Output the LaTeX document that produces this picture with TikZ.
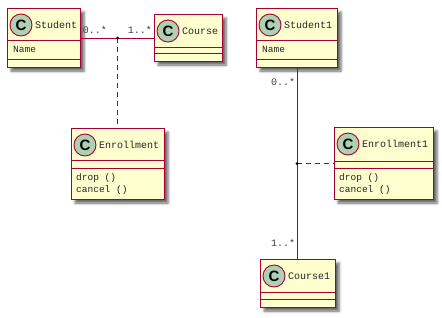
\documentclass[tikz,border=0pt]{standalone}
\usepackage{fontspec}
\setmonofont{Liberation Mono}
\setsansfont{Liberation Sans}
\usetikzlibrary{calc,shadows.blur}
\definecolor{umlborder}{HTML}{A80036}
\definecolor{umlfill}{HTML}{FEFECE}
\definecolor{umlcircle}{HTML}{ADD1B2}

\tikzset{
	classnode/.style={draw=umlborder, fill=umlfill, line width=1.1pt, inner sep=0pt, anchor=north west,
		blur shadow={shadow xshift=3.5pt, shadow yshift=-3.5pt, shadow blur radius=2.5pt, shadow opacity=60}},
	classline/.style={draw=umlborder, line width=1pt},
	classtitle/.style={anchor=west, inner sep=0pt, text=black!85, font=\ttfamily\fontsize{10}{12}\selectfont},
	member/.style={anchor=west, inner sep=0pt, text=black!85, font=\ttfamily\fontsize{9.5}{11}\selectfont},
	mult/.style={inner sep=0pt, text=black!75, font=\ttfamily\fontsize{10}{12}\selectfont},
	assoc/.style={draw=umlborder, line width=0.8pt},
	linkdash/.style={draw=umlborder, line width=0.8pt, dash pattern=on 5pt off 4pt},
}

% box with name compartment, two separators and the C badge
% #1 id, #2 x, #3 y, #4 width, #5 height, #6 first sep, #7 second sep, #8 title
\newcommand\umlclass[8]{
	\node[classnode, minimum width=#4pt, minimum height=#5pt] (#1) at (#2,#3) {};
	\draw[classline] ($(#1.north west)+(0,#6)$) -- ($(#1.north east)+(0,#6)$);
	\draw[classline] ($(#1.north west)+(0,#7)$) -- ($(#1.north east)+(0,#7)$);
	\draw[draw=umlborder, fill=umlcircle, line width=0.9pt] ($(#1.north west)+(14,17)$) circle (11);
	\node[inner sep=0pt, font=\sffamily\bfseries\fontsize{15}{15}\selectfont] (#1badge) at ($(#1.north west)+(14,17.5)$) {C};
	\node[classtitle] (#1title) at ($(#1.north west)+(28,17)$) {#8};
}

\begin{document}
\begin{tikzpicture}[x=1pt, y=-1pt]
	\useasboundingbox (0,0) rectangle (442,317);

	%%% association class on the side
	\umlclass{student}{7}{8}{73}{59}{32}{51}{Student}
	\node[member] (studentname) at (13,49.5) {Name};
	\umlclass{course}{154}{14}{68}{47}{33}{39}{Course}
	\umlclass{enroll}{71}{128}{93}{71}{32}{40}{Enrollment}
	\node[member] (enrolldrop) at (76,178) {drop ()};
	\node[member] (enrollcancel) at (76,190) {cancel ()};

	\draw[assoc] (student.east) -- (course.west);
	\coordinate (join) at ($(student.east)!0.5!(course.west)$);
	\draw[linkdash] (join) -- (join |- enroll.north);
	\fill (join) circle (1.6);
	\node[mult] (studentmult) at (95,30) {0..*};
	\node[mult] (coursemult) at (140,30) {1..*};

	%%% association class, vertical layout
	\umlclass{studentone}{256}{8}{81}{59}{32}{51}{Student1}
	\node[member] (studentonename) at (262,49.5) {Name};
	\umlclass{courseone}{260}{259}{75}{48}{33}{40}{Course1}
	\umlclass{enrollone}{334}{127}{99}{72}{34}{41}{Enrollment1}
	\node[member] (enrollonedrop) at (339,178) {drop ()};
	\node[member] (enrollonecancel) at (339,190) {cancel ()};

	\draw[assoc] (studentone.south) -- (studentone.south |- courseone.north);
	\coordinate (joinone) at (studentone.south |- enrollone.west);
	\draw[linkdash] (joinone) -- (enrollone.west);
	\fill (joinone) circle (1.6);
	\node[mult] (studentonemult) at (283,82) {0..*};
	\node[mult] (courseonemult) at (283,243) {1..*};
\end{tikzpicture}
\end{document}
